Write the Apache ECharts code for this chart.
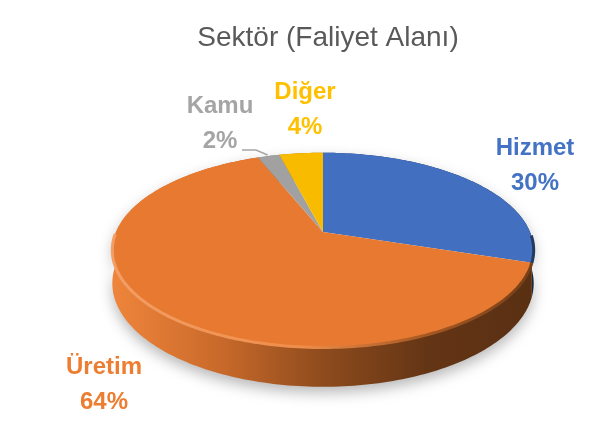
<!DOCTYPE html>
<html>
<head>
<meta charset="utf-8">
<script src="https://cdn.jsdelivr.net/npm/echarts@6/dist/echarts.min.js"></script>
<style>
html, body { margin: 0; padding: 0; background: #fff; }
#chart { width: 607px; height: 439px; }
</style>
</head>
<body>
<div id="chart"></div>
<script>
const chartTitle = 'Sektör (Faliyet Alanı)'
const sectors = ['Hizmet', 'Üretim', 'Kamu', 'Diğer']
const shares = [30, 64, 2, 4]
const colors = ['#4472C4', '#ED7D31', '#A5A5A5', '#FFC000']

// tilted disc: apex, radii, perspective strength, wall height
const CX = 323, CY = 232, RX = 207, RY = 94, PERSP = 0.186, DEPTH = 32
// centre of each two-line data label, as excel placed them
const labelAt = [[535, 166], [104, 385], [220, 124], [305, 110]]
const leader = [false, false, true, false]
const FONT = '"Liberation Sans", Arial, sans-serif'

const total = shares.reduce((a, b) => a + b, 0)
const starts = shares.map((v, i) => shares.slice(0, i).reduce((a, b) => a + b, 0) / total)

function proj(t, r, drop) {
    const u = r * Math.sin(t), v = -r * Math.cos(t)
    const s = 1 / (1 - PERSP * v)
    return [CX + RX * u * s, CY + RY * v * s + drop * s]
}

function shade(hex, f) {
    const n = parseInt(hex.slice(1), 16)
    const c = [n >> 16, (n >> 8) & 255, n & 255]
        .map(x => Math.round(f < 0 ? x * (1 + f) : x + (255 - x) * f))
    return 'rgb(' + c.join(',') + ')'
}

function across(stops) {
    return {
        type: 'linear', global: true,
        x: CX - RX, y: 0, x2: CX + RX, y2: 0,
        colorStops: stops.map(s => ({ offset: s[0], color: s[1] }))
    }
}

const myChart = echarts.init(document.getElementById('chart'))
myChart.setOption({
    animation: false,
    title: {
        text: chartTitle,
        left: 323,
        textAlign: 'center',
        top: 19,
        textStyle: {
            fontFamily: FONT,
            fontSize: 28,
            fontWeight: 'normal',
            color: '#595959',
            lineHeight: 28
        }
    },
    series: [
        {
            type: 'custom',
            coordinateSystem: 'none',
            data: shares.map((v, i) => ({ name: sectors[i], value: [v] })),
            renderItem(params, api) {
                const i = params.dataIndex
                const t0 = starts[i] * 2 * Math.PI
                const t1 = t0 + api.value(0) / total * 2 * Math.PI
                const n = Math.max(4, Math.ceil((t1 - t0) / 0.02))
                const top = [], bot = [], rim = []
                for (let k = 0; k <= n; k++) {
                    const t = t0 + (t1 - t0) * k / n
                    top.push(proj(t, 1, 0))
                    bot.push(proj(t, 1, DEPTH))
                    if (-Math.cos(t) > 0.02) rim.push(proj(t, 1, 0))
                }
                const c = colors[i]
                const kids = [
                    {
                        type: 'polygon',
                        z2: 1,
                        shape: { points: top.concat(bot.slice().reverse()) },
                        style: {
                            fill: across([[0, shade(c, 0.05)], [0.25, shade(c, -0.15)], [0.5, shade(c, -0.4)], [0.75, shade(c, -0.58)], [1, shade(c, -0.62)]]),
                            shadowBlur: 14,
                            shadowColor: 'rgba(0,0,0,0.28)',
                            shadowOffsetY: 6
                        }
                    },
                    {
                        type: 'polygon',
                        z2: 10,
                        shape: { points: [[CX, CY]].concat(top) },
                        style: { fill: shade(c, -0.025) }
                    },
                    {
                        type: 'text',
                        z2: 20,
                        x: labelAt[i][0],
                        y: labelAt[i][1],
                        style: {
                            text: sectors[i] + '\n' + Math.round(api.value(0) / total * 100) + '%',
                            fill: c,
                            font: 'bold 24px ' + FONT,
                            align: 'center',
                            verticalAlign: 'middle',
                            lineHeight: 35
                        }
                    }
                ]
                if (rim.length > 1) {
                    kids.push({
                        type: 'polyline',
                        z2: 11,
                        shape: { points: rim },
                        style: {
                            fill: null,
                            lineWidth: 3,
                            stroke: across([[0, shade(c, 0.25)], [0.45, shade(c, 0.12)], [0.75, shade(c, -0.3)], [1, shade(c, -0.5)]])
                        }
                    })
                }
                if (leader[i]) {
                    const mid = (t0 + t1) / 2
                    const p = proj(mid, 1, 0)
                    const sx = labelAt[i][0] + 22, sy = labelAt[i][1] + 26
                    kids.push({
                        type: 'polyline',
                        z2: 20,
                        shape: { points: [[sx, sy], [sx + 14, sy], [p[0] - 1, p[1] - 1]] },
                        style: { fill: null, stroke: c, lineWidth: 1.5 }
                    })
                }
                return { type: 'group', children: kids }
            }
        }
    ]
})
</script>
</body>
</html>
